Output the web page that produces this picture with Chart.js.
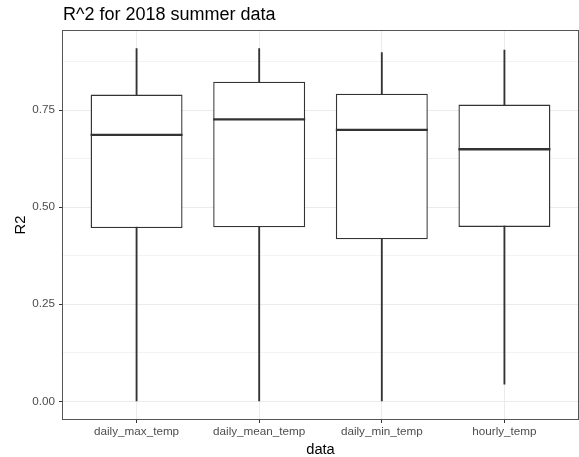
<!DOCTYPE html>
<html>
<head>
<meta charset="utf-8">
<script src="https://cdn.jsdelivr.net/npm/chart.js@4/dist/chart.umd.min.js"></script>
<style>
  html, body { margin: 0; padding: 0; background: #fff; }
  #wrap { width: 579px; height: 457px; }
</style>
</head>
<body>
<div id="wrap"><canvas id="chart" width="579" height="457"></canvas></div>
<script>
// categories and box stats
const categories = ['daily_max_temp', 'daily_mean_temp', 'daily_min_temp', 'hourly_temp'];
const whiskerLow = [0.0, 0.0, 0.0, 0.044];
const q1 = [0.446, 0.448, 0.417, 0.449];
const medians = [0.686, 0.726, 0.699, 0.649];
const q3 = [0.790, 0.823, 0.792, 0.764];
const whiskerHigh = [0.908, 0.908, 0.898, 0.904];

const yMajorTicks = [0, 0.25, 0.5, 0.75];
const yMinorTicks = [0.125, 0.375, 0.625, 0.875];
const yTickLabels = ['0.00', '0.25', '0.50', '0.75'];

const dark = '#333333';
const gridCol = '#EBEBEB';
const tickText = '#4D4D4D';
const fontFam = '"Liberation Sans", Arial, sans-serif';

const isMajor = v => yMajorTicks.some(t => Math.abs(t - v) < 1e-9);

// median lines + panel border
const boxExtras = {
    id: 'boxExtras',
    afterDatasetsDraw(chart) {
        const ctx = chart.ctx;
        const y = chart.scales.y;
        const meta = chart.getDatasetMeta(1);
        ctx.save();
        ctx.strokeStyle = dark;
        ctx.lineWidth = 2.4;
        meta.data.forEach((bar, i) => {
            const py = y.getPixelForValue(medians[i]);
            ctx.beginPath();
            ctx.moveTo(bar.x - bar.width / 2, py);
            ctx.lineTo(bar.x + bar.width / 2, py);
            ctx.stroke();
        });
        const a = chart.chartArea;
        ctx.strokeStyle = '#555555';
        ctx.lineWidth = 1;
        ctx.strokeRect(a.left - 0.5, a.top - 0.5, a.right - a.left + 1, a.bottom - a.top + 1);
        ctx.restore();
    }
};

new Chart(document.getElementById('chart'), {
    type: 'bar',
    data: {
        datasets: [
            {
                label: 'whisker',
                data: categories.map((c, i) => ({ x: i, y: [whiskerLow[i], whiskerHigh[i]] })),
                backgroundColor: dark,
                borderWidth: 0,
                barThickness: 1.2,
                grouped: false,
                order: 2
            },
            {
                label: 'box',
                data: categories.map((c, i) => ({ x: i, y: [q1[i], q3[i]] })),
                backgroundColor: '#ffffff',
                borderColor: dark,
                borderWidth: 1.4,
                borderSkipped: false,
                barPercentage: 0.75,
                categoryPercentage: 1,
                grouped: false,
                order: 1
            }
        ]
    },
    options: {
        responsive: false,
        animation: false,
        layout: { padding: { right: 1, left: 0, bottom: 0, top: 0 } },
        plugins: {
            legend: { display: false },
            tooltip: { enabled: false },
            title: {
                display: true,
                text: 'R^2 for 2018 summer data',
                align: 'start',
                fullSize: false,
                color: '#000',
                font: { family: fontFam, size: 18, weight: 'normal', lineHeight: 1.2 },
                padding: { top: 4.6, bottom: 4.8 }
            }
        },
        scales: {
            x: {
                type: 'linear',
                min: -0.6,
                max: 3.6,
                offset: false,
                afterBuildTicks: s => { s.ticks = categories.map((c, i) => ({ value: i })); },
                afterFit: s => { s.height = 38; },
                grid: { offset: false, color: gridCol, lineWidth: 1, tickColor: dark, tickLength: 4 },
                border: { display: false },
                ticks: {
                    callback: v => categories[v],
                    color: tickText,
                    padding: 2,
                    maxRotation: 0,
                    autoSkip: false,
                    font: { family: fontFam, size: 11.7 }
                },
                title: {
                    display: true,
                    text: 'data',
                    color: '#000',
                    font: { family: fontFam, size: 14.7, lineHeight: 1 },
                    padding: { top: 0, bottom: 0 }
                }
            },
            y: {
                min: -0.0454,
                max: 0.9534,
                afterBuildTicks: s => {
                    s.ticks = yMajorTicks.concat(yMinorTicks).sort((a, b) => a - b).map(v => ({ value: v }));
                },
                afterFit: s => { s.width = 63; },
                grid: {
                    color: gridCol,
                    lineWidth: c => (c.tick && isMajor(c.tick.value)) ? 1 : 0.6,
                    tickColor: c => (c.tick && isMajor(c.tick.value)) ? dark : 'rgba(0,0,0,0)',
                    tickLength: 4
                },
                border: { display: false },
                ticks: {
                    callback: v => isMajor(v) ? yTickLabels[yMajorTicks.findIndex(t => Math.abs(t - v) < 1e-9)] : '',
                    color: tickText,
                    padding: 4,
                    font: { family: fontFam, size: 11.7 }
                },
                title: {
                    display: true,
                    text: 'R2',
                    color: '#000',
                    font: { family: fontFam, size: 14.7, lineHeight: 1 },
                    padding: { top: 13.6, bottom: 0 }
                }
            }
        }
    },
    plugins: [boxExtras]
});
</script>
</body>
</html>
